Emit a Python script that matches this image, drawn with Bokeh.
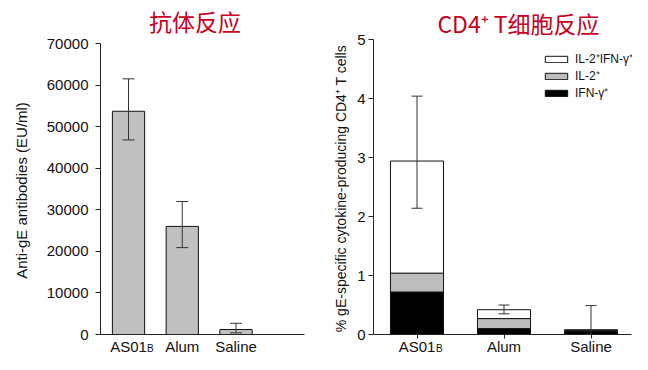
import math
from bokeh.plotting import figure
from bokeh.layouts import row
from bokeh.models import (ColumnDataSource, Whisker, TeeHead, Label, Range1d,
                          FixedTicker, NumeralTickFormatter, Legend, LegendItem)
from bokeh.embed import file_html
from bokeh.resources import INLINE

# ---------------- data ----------------
categories = ["AS01B", "Alum", "Saline"]
xpos = [1, 2, 3]

# antibody response (EU/ml)
ab_mean = [53700, 26000, 1200]
ab_lower = [46800, 20900, 400]
ab_upper = [61500, 32000, 2700]
ab_ticks = [0, 10000, 20000, 30000, 40000, 50000, 60000, 70000]

# CD4+ T cell response (% of CD4+ T cells)
ifn_only = [0.72, 0.10, 0.05]
il2_only = [0.32, 0.17, 0.02]
il2_ifn = [1.90, 0.15, 0.01]
cd4_lower = [2.14, 0.35, 0.00]
cd4_upper = [4.04, 0.50, 0.49]
cd4_ticks = [0, 1, 2, 3, 4, 5]

legend_labels = ["IL-2\u207aIFN-\u03b3\u207a", "IL-2\u207a", "IFN-\u03b3\u207a"]
title_left = "抗体反应"
title_right = "CD4\u207a T细胞反应"
ylabel_left = "Anti-gE antibodies (EU/ml)"
ylabel_right = "% gE-specific cytokine-producing CD4\u207a T cells"

FONT = "Liberation Sans"
CJK = "Noto Sans CJK SC"
RED = "#c8001e"
AX = "#222222"
TXT = "#111111"
W, H = 316, 354


class PxMap:
    """pixel -> data helper for a figure whose frame fills the canvas"""
    def __init__(self, cx1, spacing, py0, py_per_unit):
        self.cx1, self.sp, self.py0, self.k = cx1, spacing, py0, py_per_unit

    def x(self, px):
        return 1 + (px - self.cx1) / self.sp

    def y(self, py):
        return (self.py0 - py) / self.k


def make_fig(m):
    p = figure(width=W, height=H, output_backend="svg", toolbar_location=None,
               x_range=Range1d(m.x(0), m.x(W)), y_range=Range1d(m.y(H), m.y(0)),
               min_border_left=0, min_border_right=0, min_border_top=0,
               min_border_bottom=0)
    p.outline_line_color = None
    p.xgrid.visible = False
    p.ygrid.visible = False
    for ax in (p.xaxis[0], p.yaxis[0]):
        ax.axis_line_color = AX
        ax.axis_line_width = 1
        ax.major_tick_line_color = AX
        ax.minor_tick_line_color = None
        ax.major_tick_in = 0
        ax.major_tick_out = 5
        ax.major_label_text_font = FONT
        ax.major_label_text_color = TXT
        ax.major_label_text_font_size = "15px"
    p.xaxis.fixed_location = 0
    p.xaxis.ticker = FixedTicker(ticks=xpos)
    p.xaxis.major_label_overrides = {xpos[i]: (c[:-1] if c == "AS01B" else c)
                                     for i, c in enumerate(categories)}
    return p


def text(p, x, y, t, size, font=FONT, color=TXT, align="center",
         baseline="alphabetic", angle=0.0):
    p.add_layout(Label(x=x, y=y, text=t, text_align=align, text_baseline=baseline,
                       text_font=font, text_font_size=size, text_color=color,
                       angle=angle))


def subscript_b(p, m, b_px):
    text(p, m.x(b_px), m.y(342), categories[0][-1], "10px", align="left",
         baseline="top")


# ---------------- left: antibody ----------------
m1 = PxMap(cx1=128, spacing=53.75, py0=334, py_per_unit=291 / 70000)
p1 = make_fig(m1)
p1.xaxis.major_tick_out = 0
p1.xaxis.major_label_standoff = 3
p1.xaxis.bounds = (m1.x(100), m1.x(304))
p1.yaxis.fixed_location = m1.x(100)
p1.yaxis.bounds = (0, 70000)
p1.yaxis.ticker = FixedTicker(ticks=ab_ticks)
p1.yaxis.formatter = NumeralTickFormatter(format="0")
p1.yaxis.major_label_standoff = 7

src1 = ColumnDataSource(dict(x=xpos, top=ab_mean, lower=ab_lower, upper=ab_upper))
p1.vbar(x="x", top="top", width=0.6, source=src1, fill_color="#c0c0c0",
        line_color=TXT, line_width=1)
p1.add_layout(Whisker(source=src1, base="x", lower="lower", upper="upper",
                      line_color="#333333", line_width=1, level="overlay",
                      upper_head=TeeHead(size=12, line_color="#333333", line_width=1),
                      lower_head=TeeHead(size=12, line_color="#333333", line_width=1)))
subscript_b(p1, m1, 146.5)
text(p1, m1.x(194.5), m1.y(20), title_left, "23px", font=CJK, color=RED,
     baseline="middle")
text(p1, m1.x(21), m1.y(190), ylabel_left, "15px", baseline="middle",
     angle=math.pi / 2)

# ---------------- right: CD4+ T cells ----------------
m2 = PxMap(cx1=100.5, spacing=87, py0=334, py_per_unit=295 / 5)
p2 = make_fig(m2)
p2.xaxis.major_tick_out = 4
p2.xaxis.major_label_standoff = -1
p2.xaxis.bounds = (0.5, m2.x(315))
p2.yaxis.fixed_location = 0.5
p2.yaxis.bounds = (0, 5)
p2.yaxis.ticker = FixedTicker(ticks=cd4_ticks)
p2.yaxis.major_label_standoff = 3

src2 = ColumnDataSource(dict(x=xpos, ifn=ifn_only, il2=il2_only, both=il2_ifn))
rs = p2.vbar_stack(["ifn", "il2", "both"], x="x", width=0.61, source=src2,
                   fill_color=["#000000", "#bdbdbd", "#ffffff"],
                   line_color=TXT, line_width=1)
src2e = ColumnDataSource(dict(x=xpos[:2], lower=cd4_lower[:2], upper=cd4_upper[:2]))
p2.add_layout(Whisker(source=src2e, base="x", lower="lower", upper="upper",
                      line_color="#333333", line_width=1, level="overlay",
                      upper_head=TeeHead(size=11, line_color="#333333", line_width=1),
                      lower_head=TeeHead(size=11, line_color="#333333", line_width=1)))
src2s = ColumnDataSource(dict(x=xpos[2:], lower=cd4_lower[2:], upper=cd4_upper[2:]))
p2.add_layout(Whisker(source=src2s, base="x", lower="lower", upper="upper",
                      line_color="#333333", line_width=1, level="overlay",
                      upper_head=TeeHead(size=11, line_color="#333333", line_width=1),
                      lower_head=None))
subscript_b(p2, m2, 119.5)
text(p2, m2.x(202), m2.y(22), title_right, "23px", font=CJK, color=RED,
     baseline="middle")
text(p2, m2.x(24), m2.y(188), ylabel_right, "14px", baseline="middle",
     angle=math.pi / 2)

legend = Legend(items=[LegendItem(label=legend_labels[0], renderers=[rs[2]]),
                       LegendItem(label=legend_labels[1], renderers=[rs[1]]),
                       LegendItem(label=legend_labels[2], renderers=[rs[0]])],
                location=(226, 253), background_fill_alpha=0, border_line_alpha=0,
                padding=0, margin=0, spacing=0, glyph_width=28, glyph_height=8,
                label_height=13, label_text_font_size="12px", label_text_font=FONT,
                label_standoff=5, label_text_color=TXT)
p2.add_layout(legend)

layout = row(p1, p2)
open("out.html", "w").write(file_html(layout, INLINE))
